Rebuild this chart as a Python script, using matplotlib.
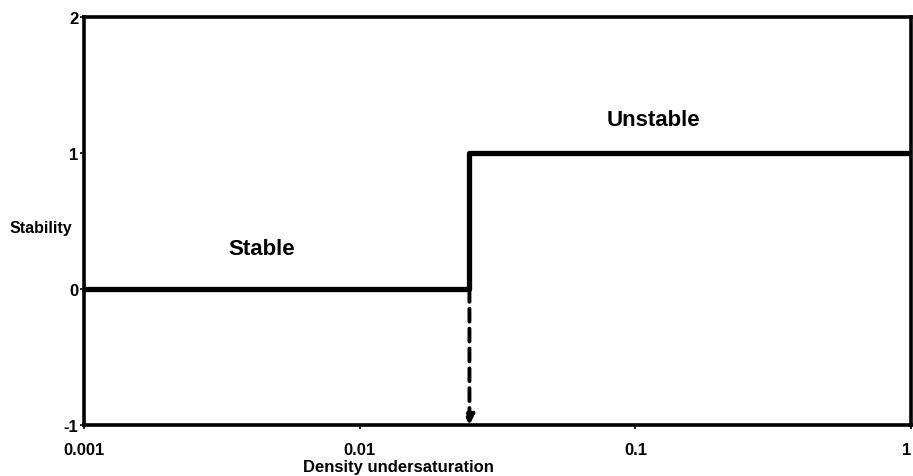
import matplotlib.pyplot as plt

plt.rcParams['font.family'] = ['Liberation Sans', 'DejaVu Sans']
plt.rcParams['axes.unicode_minus'] = False

# stability step as a function of density undersaturation
x_step = [0.001, 0.025, 0.025, 1.0]
y_step = [0, 0, 1, 1]
x_crit = 0.025

x_ticks = [0.001, 0.01, 0.1, 1]
x_ticklabels = ['0.001', '0.01', '0.1', '1']
y_ticks = [-1, 0, 1, 2]


def main():
    fig = plt.figure(figsize=(9.13, 4.77), dpi=100)
    ax = fig.add_axes([0.092, 0.107, 0.906, 0.855])

    ax.plot(x_step, y_step, color='black', linewidth=3.8, solid_capstyle='butt',
            clip_on=False, zorder=3)

    # dashed arrow down to the axis at the critical value
    ax.annotate('', xy=(x_crit, -1), xytext=(x_crit, 0),
                arrowprops=dict(arrowstyle='-|>', color='black', linewidth=2.8,
                                linestyle=(0, (3.3, 1.8)), mutation_scale=14,
                                shrinkA=0, shrinkB=0))

    ax.set_xscale('log')
    ax.set_xlim(0.001, 1)
    ax.set_ylim(-1, 2)
    ax.set_xticks(x_ticks)
    ax.set_xticklabels(x_ticklabels)
    ax.minorticks_off()
    ax.set_yticks(y_ticks)

    for sp in ax.spines.values():
        sp.set_linewidth(2.6)

    ax.tick_params(axis='both', direction='out', length=3, width=1.2, labelsize=12)
    ax.tick_params(axis='x', pad=9)
    ax.tick_params(axis='y', pad=1)
    for lab in ax.get_xticklabels() + ax.get_yticklabels():
        lab.set_fontweight('bold')
    ax.get_xticklabels()[-1].set_horizontalalignment('right')

    ax.text(0.0044, 0.3, 'Stable', fontsize=16, fontweight='bold', ha='center', va='center')
    ax.text(0.116, 1.25, 'Unstable', fontsize=16, fontweight='bold', ha='center', va='center')

    fig.text(0.045, 0.522, 'Stability', fontsize=11.5, fontweight='bold', ha='center', va='center')
    fig.text(0.436, 0.019, 'Density undersaturation', fontsize=12, fontweight='bold',
             ha='center', va='center')

    fig.savefig('out.png', dpi=100)


if __name__ == '__main__':
    main()
